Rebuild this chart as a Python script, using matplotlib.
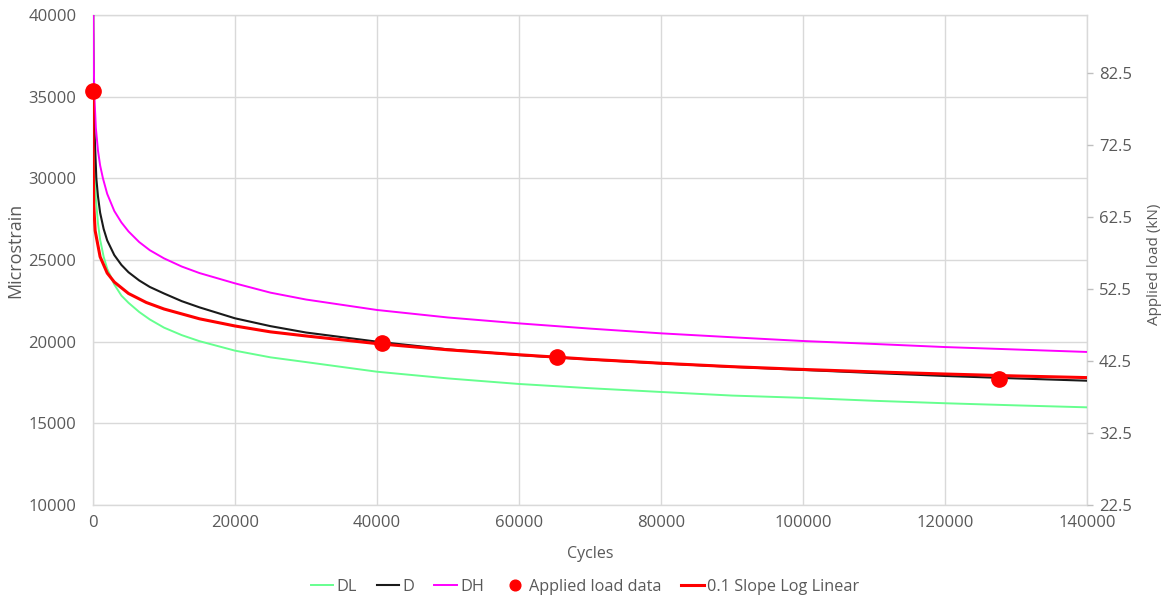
import matplotlib
matplotlib.use("Agg")
import matplotlib.pyplot as plt

plt.rcParams['font.family'] = ['Open Sans', 'DejaVu Sans']

# Strain curves: cycle counts and microstrain values
cycles_dl = [20, 50, 100, 200, 400, 700, 1000, 1500, 2000, 3000, 4000, 5000, 6500, 8000, 10000, 12500,
             15000, 20000, 25000, 30000, 40000, 50000, 60000, 70000, 80000, 90000, 100000, 110000,
             120000, 130000, 140000]
strain_dl = [38800, 35400, 33000, 30800, 28750, 27250, 26250, 25200, 24470, 23500, 22820, 22380, 21820,
             21360, 20860, 20400, 20030, 19450, 19040, 18750, 18160, 17750, 17410, 17150, 16920, 16700,
             16560, 16380, 16230, 16100, 15980]

cycles_d = [20, 50, 100, 200, 470, 700, 1000, 1500, 2000, 3000, 4000, 5000, 6500, 8000, 10000, 12500,
            15000, 20000, 25000, 30000, 40000, 50000, 60000, 70000, 80000, 90000, 100000, 110000,
            120000, 130000, 140000]
strain_d = [41000, 38000, 35300, 33000, 30000, 28900, 27900, 26900, 26200, 25300, 24700, 24250, 23750,
            23350, 22950, 22480, 22100, 21430, 20950, 20560, 20000, 19530, 19180, 18910, 18670, 18460,
            18270, 18080, 17900, 17750, 17610]

cycles_dh = [20, 50, 100, 200, 400, 700, 1000, 1400, 2000, 3000, 4000, 5000, 6500, 8000, 10000, 12500,
             15000, 20000, 25000, 30000, 40000, 50000, 60000, 70000, 80000, 90000, 100000, 110000,
             120000, 130000, 140000]
strain_dh = [42600, 39600, 37100, 35000, 33100, 31700, 30800, 30000, 29050, 28000, 27300, 26750, 26100,
             25600, 25100, 24600, 24200, 23570, 23000, 22580, 21940, 21480, 21120, 20800, 20510, 20270,
             20040, 19860, 19670, 19520, 19370]

cycles_fit = [1, 10, 100, 300, 1000, 2000, 3000, 5000, 7500, 10000, 15000, 20000, 25000, 30000,
              40000, 50000, 60000, 70000, 80000, 90000, 100000, 110000, 120000, 130000, 140000]
strain_fit = [35100, 31800, 28400, 26800, 25200, 24200, 23650, 22950, 22400, 22000, 21400, 20960, 20600,
              20350, 19880, 19500, 19200, 18920, 18680, 18470, 18300, 18150, 18020, 17900, 17800]

# Measured applied load (kN) at the test stages
load_cycles = [0, 40750, 65300, 127650]
load_kn = [80.0, 45.0, 43.0, 40.0]

left_ticks = [10000, 15000, 20000, 25000, 30000, 35000, 40000]
right_ticks = [22.5, 32.5, 42.5, 52.5, 62.5, 72.5, 82.5]
x_ticks = [0, 20000, 40000, 60000, 80000, 100000, 120000, 140000]

TEXT = '#595959'
GRID = '#d9d9d9'
W, H = 1173, 599

fig = plt.figure(figsize=(W / 100, H / 100), dpi=100)
ax = fig.add_axes([93 / W, 1 - 505 / H, (1087 - 93) / W, (505 - 15) / H])

ax.plot(cycles_dl, strain_dl, color='#66ff8f', lw=1.4, label='DL', zorder=3)
ax.plot(cycles_d, strain_d, color='#1a1a1a', lw=1.5, label='D', zorder=3)
ax.plot(cycles_dh, strain_dh, color='#ff00ff', lw=1.4, label='DH', zorder=3)
fit_line, = ax.plot(cycles_fit, strain_fit, color='#ff0000', lw=2.2, label='0.1 Slope Log Linear', zorder=4)

ax.set_xlim(0, 140000)
ax.set_ylim(10000, 40000)
ax.set_xticks(x_ticks)
ax.set_yticks(left_ticks)
ax.grid(True, color=GRID, lw=1.0)
ax.set_axisbelow(True)
for s in ax.spines.values():
    s.set_color(GRID)
    s.set_linewidth(1.0)
ax.tick_params(axis='y', length=0, labelsize=12, colors=TEXT, pad=12)
ax.tick_params(axis='x', length=0, labelsize=12, colors=TEXT, pad=7)

ax2 = ax.twinx()
ax2.set_ylim(22.5, 90.5)
ax2.set_yticks(right_ticks)
ax2.set_yticklabels([f'{v:.1f}' for v in right_ticks])
pts, = ax2.plot(load_cycles, load_kn, 'o', color='#ff0000', ms=11, label='Applied load data',
                clip_on=False, zorder=5)
for s in ax2.spines.values():
    s.set_visible(False)
ax2.tick_params(axis='y', direction='out', length=4.5, width=1.0, color='#bfbfbf',
                labelcolor=TEXT, labelsize=12, pad=4)

fig.text(15 / W, 1 - 250 / H, 'Microstrain', rotation=90, ha='center', va='center',
         fontsize=13, color=TEXT)
fig.text(1154 / W, 1 - 264 / H, 'Applied load (kN)', rotation=90, ha='center', va='center',
         fontsize=11, color=TEXT)
fig.text(590 / W, 1 - 554 / H, 'Cycles', ha='center', va='center', fontsize=11.5, color=TEXT)

h1, l1 = ax.get_legend_handles_labels()
handles = [h1[0], h1[1], h1[2], pts, fit_line]
labels = ['DL', 'D', 'DH', 'Applied load data', '0.1 Slope Log Linear']
leg = fig.legend(handles, labels, loc='center', bbox_to_anchor=(585 / W, 1 - 587 / H), ncol=5,
                 frameon=False, fontsize=11.7, handlelength=1.4, handletextpad=0.2,
                 columnspacing=1.2, markerscale=0.7, borderpad=0)
for t in leg.get_texts():
    t.set_color(TEXT)

fig.savefig('out.png', dpi=100)
